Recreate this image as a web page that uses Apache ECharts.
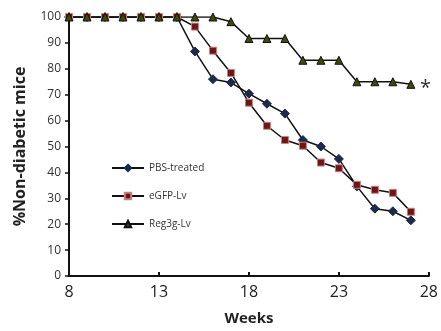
<!DOCTYPE html>
<html>
<head>
<meta charset="utf-8">
<script src="https://cdn.jsdelivr.net/npm/echarts@6/dist/echarts.min.js"></script>
<style>
  html, body { margin: 0; padding: 0; background: #fff; }
  #chart { width: 441px; height: 331px; }
</style>
</head>
<body>
<div id="chart"></div>
<script>
var weeks = [8, 9, 10, 11, 12, 13, 14, 15, 16, 17, 18, 19, 20, 21, 22, 23, 24, 25, 26, 27];
var pbs   = [100, 100, 100, 100, 100, 100, 100, 86.7, 76, 74.7, 70.4, 66.5, 62.7, 52.5, 50, 45.2, 34.6, 26, 25, 21.5];
var egfp  = [100, 100, 100, 100, 100, 100, 100, 96.3, 87, 78.4, 66.9, 58, 52.5, 50.3, 43.8, 41.6, 35.2, 33.3, 32.1, 24.8];
var reg3g = [100, 100, 100, 100, 100, 100, 100, 100, 100, 98.2, 91.7, 91.7, 91.7, 83.3, 83.3, 83.3, 75, 75, 75, 74];
var names = ['PBS-treated', 'eGFP-Lv', 'Reg3g-Lv'];

function pairs(vals) {
    var out = [];
    for (var i = 0; i < weeks.length; i++) out.push([weeks[i], vals[i]]);
    return out;
}

var font = '"Open Sans", "Liberation Sans", sans-serif';
var chart = echarts.init(document.getElementById('chart'));

function makeSeries(name, vals, symbol, size, color, border) {
    return {
        name: name,
        type: 'line',
        data: pairs(vals),
        symbol: symbol,
        symbolSize: size,
        showAllSymbol: true,
        lineStyle: { color: '#111', width: 1.5 },
        itemStyle: { color: color, borderColor: border, borderWidth: 1 },
        emphasis: { disabled: true },
        animation: false
    };
}

chart.setOption({
    animation: false,
    grid: { left: 69, right: 11, top: 17, bottom: 54, containLabel: false },
    legend: {
        orient: 'vertical',
        left: 106,
        top: 158,
        itemWidth: 32,
        itemHeight: 8,
        itemGap: 18,
        textStyle: { fontFamily: font, fontSize: 10, color: '#333' },
        data: names
    },
    xAxis: {
        type: 'value',
        min: 8,
        max: 28,
        interval: 5,
        name: 'Weeks',
        nameLocation: 'middle',
        nameGap: 35,
        nameTextStyle: { fontFamily: font, fontSize: 15, fontWeight: 'bold', color: '#222' },
        axisLine: { lineStyle: { color: '#111', width: 2 } },
        axisTick: { show: true, length: 4, inside: true, lineStyle: { color: '#111', width: 2 } },
        axisLabel: { fontFamily: font, fontSize: 16, color: '#222', margin: 8 },
        splitLine: { show: false }
    },
    yAxis: {
        type: 'value',
        min: 0,
        max: 100,
        interval: 10,
        name: '%Non-diabetic mice',
        nameLocation: 'middle',
        nameGap: 41,
        nameTextStyle: { fontFamily: font, fontSize: 16, fontWeight: 'bold', color: '#222' },
        axisLine: { show: true, lineStyle: { color: '#111', width: 2 } },
        axisTick: { show: true, length: 4, lineStyle: { color: '#111', width: 1.5 } },
        axisLabel: { fontFamily: font, fontSize: 12, color: '#333', margin: 8 },
        splitLine: { show: false }
    },
    series: [
        makeSeries(names[0], pbs, 'diamond', 9, '#1c2a4c', '#1c2a4c'),
        makeSeries(names[1], egfp, 'rect', 7, '#6e1616', '#c98080'),
        makeSeries(names[2], reg3g, 'triangle', 8, '#3c4a0c', '#111')
    ],
    graphic: [{
        type: 'text',
        left: 420,
        top: 78,
        style: { text: '*', font: '20px ' + font, fill: '#333' }
    }]
});
</script>
</body>
</html>
